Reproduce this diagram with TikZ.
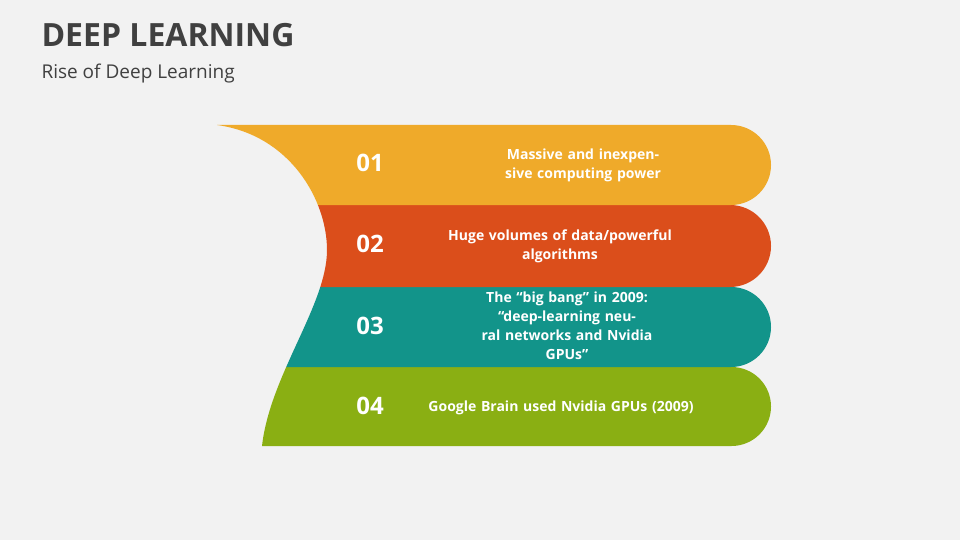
\documentclass[tikz,border=0pt]{standalone}
\usepackage{fontspec}
\setmainfont{Open Sans}
\definecolor{bg}{HTML}{F2F2F2}
\definecolor{ttl}{HTML}{404040}
\definecolor{c1}{HTML}{EFAA2A}
\definecolor{c2}{HTML}{DB4E1B}
\definecolor{c3}{HTML}{12948A}
\definecolor{c4}{HTML}{8AAF13}
\tikzset{num/.style={text=white,font=\fontsize{24}{28}\selectfont\bfseries},
 txt/.style={text=white,font=\fontsize{14}{19}\selectfont\bfseries,align=center,text width=300pt}}
\begin{document}
\begin{tikzpicture}[x=1pt,y=-1pt]
\fill[bg] (0,0) rectangle (960,540);
\useasboundingbox (0,0) rectangle (960,540);
\node[anchor=west,text=ttl,font=\fontsize{32}{36}\selectfont\bfseries] (title) at (38,35) {DEEP LEARNING};
\node[anchor=west,text=ttl,font=\fontsize{19}{22}\selectfont] (sub) at (38,74) {Rise of Deep Learning};
\begin{scope}
\clip (217,125) .. controls (290,135) and (327,200) .. (327,250) .. controls (327,305) and (270,375) .. (262,446) -- (900,446) -- (900,125) -- cycle;
\fill[c4,rounded corners=39.5] (100,367) -- (771,367) -- (771,446) -- (100,446) -- cycle;
\fill[c3,rounded corners=40] (100,287) -- (771,287) -- (771,367) -- (100,367) -- cycle;
\fill[c2,rounded corners=41] (100,205) -- (771,205) -- (771,287) -- (100,287) -- cycle;
\fill[c1,rounded corners=40] (100,125) -- (771,125) -- (771,205) -- (100,205) -- cycle;
\end{scope}
\node[num] (n1) at (370,163) {01};
\node[num] (n2) at (370,244) {02};
\node[num] (n3) at (370,326) {03};
\node[num] (n4) at (370,406) {04};
\node[txt] (t1) at (583,165) {Massive and inexpensive computing power};
\node[txt] (t2) at (560,246) {Huge volumes of data/powerful\\algorithms};
\node[txt] (t3) at (567,326) {The “big bang” in 2009:\\“deep-learning neural networks and Nvidia\\GPUs”};
\node[txt] (t4) at (561,408) {Google Brain used Nvidia GPUs (2009)};
\end{tikzpicture}
\end{document}
